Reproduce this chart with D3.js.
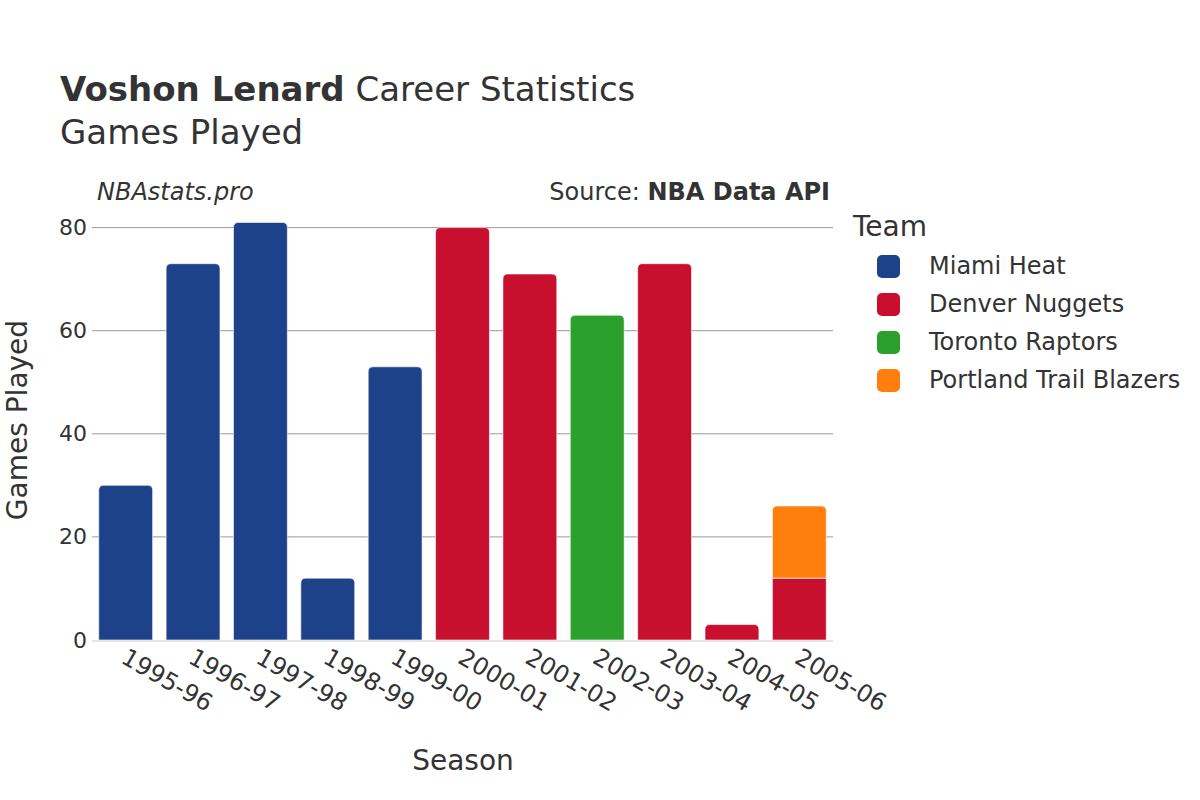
<!DOCTYPE html>
<html><head><meta charset="utf-8">
<script src="https://cdn.jsdelivr.net/npm/d3@7"></script>
<style>body{margin:0;background:#fff;} svg{font-family:"DejaVu Sans",sans-serif;}</style>
</head><body>
<svg id="c" width="1200" height="800"></svg>
<script>
const seasons = ["1995-96","1996-97","1997-98","1998-99","1999-00","2000-01","2001-02","2002-03","2003-04","2004-05","2005-06"];
const teams = ["Miami Heat","Denver Nuggets","Toronto Raptors","Portland Trail Blazers"];
const teamColors = ["#1d428a","#c8102e","#2ca02c","#ff7f0e"];
const miamiHeat =      [30,73,81,12,53,0,0,0,0,0,0];
const denverNuggets =  [0,0,0,0,0,80,71,0,73,3,12];
const torontoRaptors = [0,0,0,0,0,0,0,63,0,0,0];
const portlandTB =     [0,0,0,0,0,0,0,0,0,0,14];
const yTicks = [0,20,40,60,80];

(function(){
const series = [miamiHeat, denverNuggets, torontoRaptors, portlandTB];
const svg = d3.select("#c");
const pL = 92, pR = 833, pT = 207, pB = 640;
const x = d3.scaleBand().domain(seasons).range([pL, pR]).paddingInner(0.2).paddingOuter(0.1);
const y = d3.scaleLinear().domain([0, 84]).range([pB, pT]);

svg.append("g").selectAll("line").data(yTicks.filter(d=>d>0)).join("line")
  .attr("x1", pL).attr("x2", pR).attr("y1", d=>y(d)).attr("y2", d=>y(d))
  .attr("stroke", "#999").attr("stroke-width", 1);

const yAxis = svg.append("g").attr("transform", `translate(${pL},0)`)
  .call(d3.axisLeft(y).tickValues(yTicks).tickSize(0).tickPadding(5));
yAxis.select(".domain").remove();
yAxis.selectAll("text").attr("font-size", 22).attr("fill", "#333").attr("font-family","DejaVu Sans");

const stackData = seasons.map((s,i)=>{ const o={season:s}; teams.forEach((t,j)=>o[t]=series[j][i]); return o; });
const stacked = d3.stack().keys(teams)(stackData);
const r = 5;
function barPath(x0, w, yTop, yBot, rounded){
  if (!rounded) return `M${x0},${yBot}V${yTop}H${x0+w}V${yBot}Z`;
  const rr = Math.min(r, (yBot-yTop), w/2);
  return `M${x0},${yBot}V${yTop+rr}Q${x0},${yTop} ${x0+rr},${yTop}H${x0+w-rr}Q${x0+w},${yTop} ${x0+w},${yTop+rr}V${yBot}Z`;
}
stacked.forEach((layer, li)=>{
  svg.append("g").selectAll("path").data(layer.filter(d=>d[1]-d[0]>0)).join("path")
    .attr("d", d=>{
      const idx = seasons.indexOf(d.data.season);
      const total = series.reduce((a,s)=>a+s[idx],0);
      return barPath(x(d.data.season), x.bandwidth(), y(d[1]), y(d[0]), d[1]===total);
    })
    .attr("fill", teamColors[li])
    .attr("stroke", "rgba(255,255,255,0.6)").attr("stroke-width", 1);
});

svg.append("line").attr("x1", pL).attr("x2", pR).attr("y1", y(0)+1).attr("y2", y(0)+1)
  .attr("stroke", "#e5e5e5").attr("stroke-width", 2);

const xAxis = svg.append("g").attr("transform", `translate(0,${pB})`)
  .call(d3.axisBottom(x).tickSize(0).tickPadding(0));
xAxis.select(".domain").remove();
xAxis.selectAll("text").attr("font-size", 24).attr("fill", "#333").attr("font-family","DejaVu Sans")
  .attr("text-anchor", "start").attr("dy", null)
  .attr("transform", "translate(-6,22) rotate(30)");

const title = svg.append("text").attr("x", 60).attr("y", 101).attr("font-size", 34).attr("fill", "#333");
title.append("tspan").attr("font-weight", "bold").text("Voshon Lenard");
title.append("tspan").text(" Career Statistics");
svg.append("text").attr("x", 60).attr("y", 144).attr("font-size", 34).attr("fill", "#333").text("Games Played");
svg.append("text").attr("x", 97).attr("y", 200).attr("font-size", 24).attr("font-style", "italic").attr("fill", "#333").text("NBAstats.pro");
const src = svg.append("text").attr("x", 830).attr("y", 200).attr("font-size", 24).attr("fill", "#333").attr("text-anchor", "end");
src.append("tspan").text("Source: ");
src.append("tspan").attr("font-weight", "bold").text("NBA Data API");

svg.append("text").attr("x", 463).attr("y", 770).attr("text-anchor", "middle").attr("font-size", 28).attr("fill", "#333").text("Season");
svg.append("text").attr("transform", `translate(27,420) rotate(-90)`).attr("text-anchor", "middle").attr("font-size", 28).attr("fill", "#333").text("Games Played");

svg.append("text").attr("x", 853).attr("y", 236).attr("font-size", 28).attr("fill", "#333").text("Team");
const lg = svg.append("g").selectAll("g").data(teams).join("g")
  .attr("transform", (d,i)=>`translate(0,${266 + i*38})`);
lg.append("rect").attr("x", 877).attr("y", -11).attr("width", 23).attr("height", 23).attr("rx", 5)
  .attr("fill", (d,i)=>teamColors[i]);
lg.append("text").attr("x", 929).attr("y", 8).attr("font-size", 24).attr("fill", "#333").text(d=>d);
})();
</script>
</body></html>
